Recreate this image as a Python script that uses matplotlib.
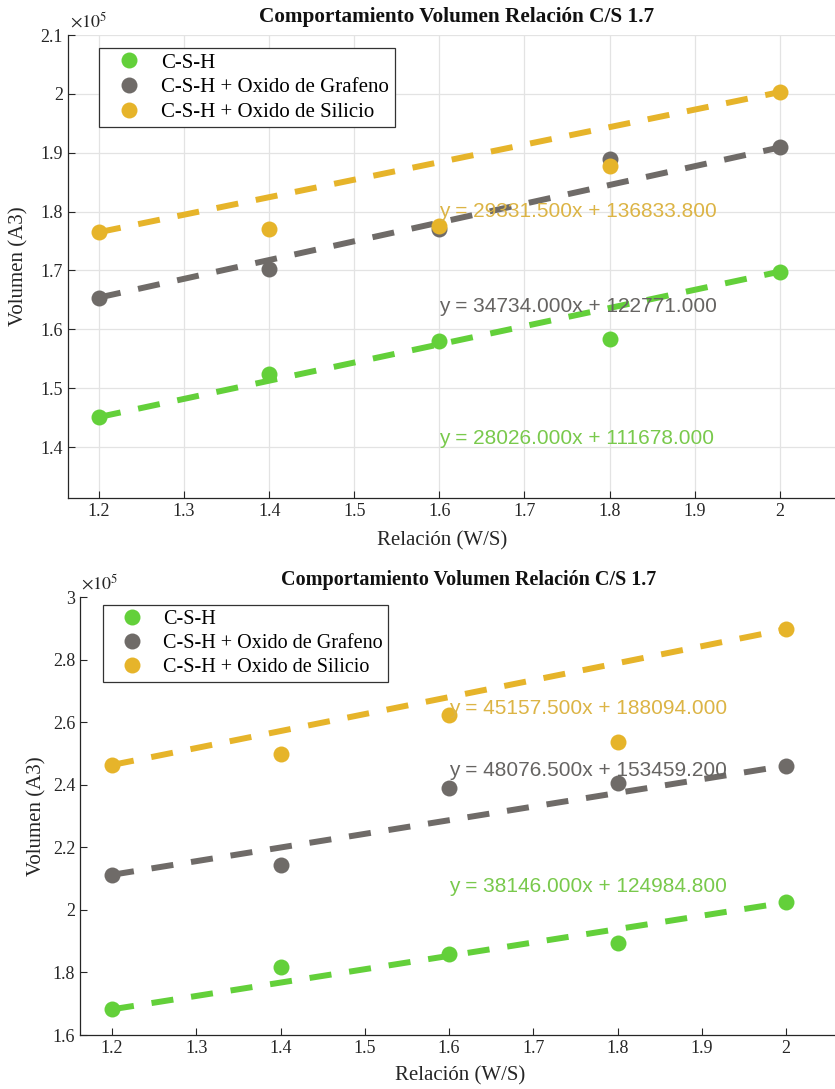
import matplotlib
matplotlib.use("Agg")
import matplotlib.pyplot as plt
import numpy as np

# datos (volumen en unidades de 1e5 A3)
relacion = [1.2, 1.4, 1.6, 1.8, 2.0]
series = ["C-S-H", "C-S-H + Oxido de Grafeno", "C-S-H + Oxido de Silicio"]

vol_top_csh = [1.451, 1.524, 1.580, 1.584, 1.698]
vol_top_grafeno = [1.654, 1.703, 1.770, 1.889, 1.909]
vol_top_silicio = [1.765, 1.771, 1.776, 1.878, 2.003]

vol_bot_csh = [1.682, 1.818, 1.858, 1.895, 2.024]
vol_bot_grafeno = [2.112, 2.144, 2.391, 2.407, 2.461]
vol_bot_silicio = [2.463, 2.497, 2.623, 2.538, 2.897]

eq_top = ["y = 28026.000x + 111678.000",
          "y = 34734.000x + 122771.000",
          "y = 29331.500x + 136833.800"]
eq_top_y = [1.414, 1.639, 1.800]
eq_bot = ["y = 38146.000x + 124984.800",
          "y = 48076.500x + 153459.200",
          "y = 45157.500x + 188094.000"]
eq_bot_y = [2.074, 2.444, 2.645]

titulo = "Comportamiento Volumen Relación C/S 1.7"

colores = ["#63d03a", "#6f6b68", "#e6b42a"]
colores_txt = ["#79c94c", "#666462", "#dcb445"]

serif = ["Liberation Serif", "DejaVu Serif"]
sans = ["Liberation Sans", "DejaVu Sans"]
plt.rcParams["font.family"] = serif
plt.rcParams["mathtext.fontset"] = "stix"

fig = plt.figure(figsize=(8.35, 10.89), dpi=100)
ax1 = fig.add_axes([68 / 835, 1 - 497.7 / 1089, 1 - 68 / 835, 462.7 / 1089])
ax2 = fig.add_axes([80 / 835, 1 - 1035 / 1089, 1 - 80 / 835, 438 / 1089])


def dibujar(ax, datos, eqs, eq_y, fs_leg, anchor):
    x = np.array(relacion)
    handles = []
    for i, y in enumerate(datos):
        y = np.array(y)
        # linea de tendencia del primer al ultimo punto
        m = (y[-1] - y[0]) / (x[-1] - x[0])
        ax.plot(x, y[0] + m * (x - x[0]), ls=(0, (3.7, 3.0)), lw=4.3,
                color=colores[i], zorder=2)
        h, = ax.plot(x, y, "o", ms=11.5, color=colores[i], mec="none",
                     label=series[i], zorder=3)
        handles.append(h)
        ax.text(1.6, eq_y[i], eqs[i], color=colores_txt[i], fontsize=15,
                family=sans, ha="left", va="center", zorder=4)
    leg = ax.legend(handles=handles, loc="upper left", bbox_to_anchor=anchor,
                    borderaxespad=0, fontsize=fs_leg, fancybox=False,
                    edgecolor="#333333", framealpha=1, handlelength=2.4,
                    handletextpad=0.35, labelspacing=0.24, borderpad=0.25)
    leg.get_frame().set_linewidth(0.9)
    leg.set_zorder(5)
    for s in ["top", "right"]:
        ax.spines[s].set_visible(False)
    for s in ["left", "bottom"]:
        ax.spines[s].set_color("#262626")
        ax.spines[s].set_linewidth(0.9)
    ax.tick_params(direction="in", length=5, width=0.8, colors="#262626",
                   labelsize=13)
    ax.set_xticks([1.2, 1.3, 1.4, 1.5, 1.6, 1.7, 1.8, 1.9, 2.0])
    ax.set_xticklabels(["1.2", "1.3", "1.4", "1.5", "1.6", "1.7", "1.8",
                        "1.9", "2"])


dibujar(ax1, [vol_top_csh, vol_top_grafeno, vol_top_silicio], eq_top,
        eq_top_y, 15, (0.0404, 0.972))
ax1.set_xlim(1.1636, 1.2 + (835 - 99) / 851)
ax1.set_ylim(1.314, 2.1)
ax1.set_yticks([1.4, 1.5, 1.6, 1.7, 1.8, 1.9, 2.0, 2.1])
ax1.set_yticklabels(["1.4", "1.5", "1.6", "1.7", "1.8", "1.9", "2", "2.1"])
ax1.grid(True, color="#e3e3e3", lw=0.9)
ax1.set_axisbelow(True)

dibujar(ax2, [vol_bot_csh, vol_bot_grafeno, vol_bot_silicio], eq_bot,
        eq_bot_y, 14.5, (0.0305, 0.982))
ax2.set_xlim(1.2 - 32 / 842.5, 1.2 + (835 - 112) / 842.5)
ax2.set_ylim(1.6, 3.0)
ax2.set_yticks([1.6, 1.8, 2.0, 2.2, 2.4, 2.6, 2.8, 3.0])
ax2.set_yticklabels(["1.6", "1.8", "2", "2.2", "2.4", "2.6", "2.8", "3"])

for ax, lx, ly in [(ax1, 0.488, -0.072), (ax2, 0.503, -0.071)]:
    ax.set_xlabel("Relación (W/S)", fontsize=15, color="#262626")
    ax.xaxis.set_label_coords(lx, ly)
    ax.set_ylabel("Volumen (A3)", fontsize=15, color="#262626")
ax1.yaxis.set_label_coords(-0.051, 0.5)
ax2.yaxis.set_label_coords(-0.045, 0.5)

fig.text(457 / 835, 1 - 17 / 1089, titulo, fontsize=15.3, weight="bold",
         ha="center", va="center", color="#111111")
fig.text(469 / 835, 1 - 580 / 1089, titulo, fontsize=14.5, weight="bold",
         ha="center", va="center", color="#111111")

fig.text(70 / 835, 1 - 27 / 1089, r"$\times10^5$", fontsize=13,
         ha="left", va="baseline", color="#262626")
fig.text(81 / 835, 1 - 589 / 1089, r"$\times10^5$", fontsize=13,
         ha="left", va="baseline", color="#262626")

fig.savefig("out.png", dpi=100)
